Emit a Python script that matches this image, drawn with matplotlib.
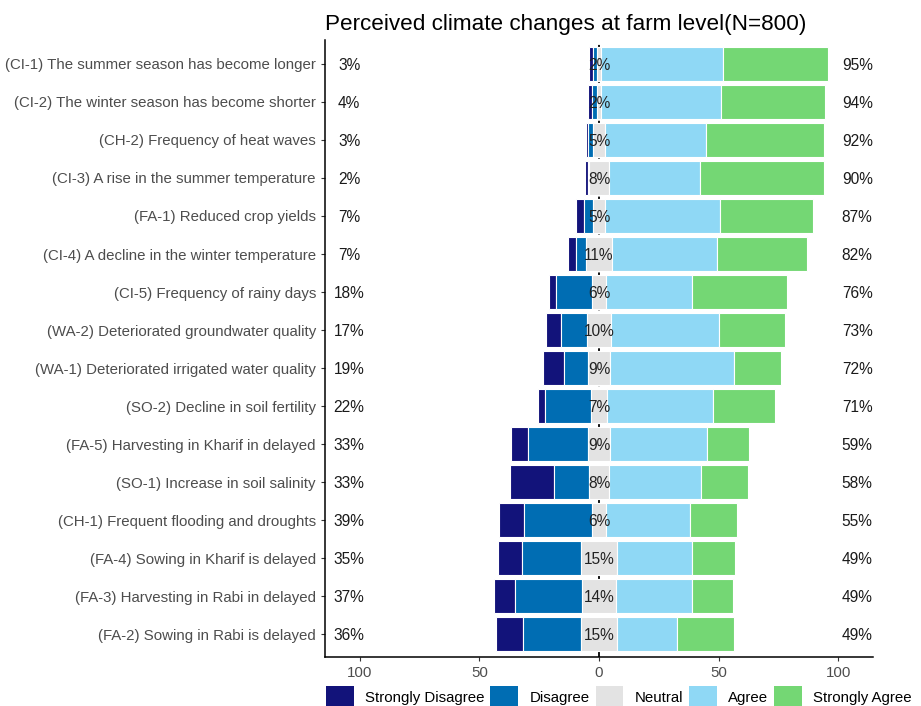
import matplotlib.pyplot as plt
from matplotlib.patches import Patch
import numpy as np

plt.rcParams['font.family'] = ['Liberation Sans', 'DejaVu Sans']

# Datos de ejemplo
items = [
    '(CI-1) The summer season has become longer',
    '(CI-2) The winter season has become shorter',
    '(CH-2) Frequency of heat waves',
    '(CI-3) A rise in the summer temperature',
    '(FA-1) Reduced crop yields',
    '(CI-4) A decline in the winter temperature',
    '(CI-5) Frequency of rainy days',
    '(WA-2) Deteriorated groundwater quality',
    '(WA-1) Deteriorated irrigated water quality',
    '(SO-2) Decline in soil fertility',
    '(FA-5) Harvesting in Kharif in delayed',
    '(SO-1) Increase in soil salinity',
    '(CH-1) Frequent flooding and droughts',
    '(FA-4) Sowing in Kharif is delayed',
    '(FA-3) Harvesting in Rabi in delayed',
    '(FA-2) Sowing in Rabi is delayed',
]
strongly_disagree = [1.6, 1.7, 1.0, 1.2, 3.5, 3.2, 2.8, 6.6, 9.0, 2.7, 7.3, 18.3, 10.3, 10.3, 8.8, 11.0]
disagree = [1.5, 2.1, 2.1, 0.5, 3.8, 4.2, 15.0, 10.7, 10.0, 19.3, 25.2, 14.8, 28.4, 24.6, 28.0, 24.5]
neutral = [2, 2, 5, 8, 5, 11, 6, 10, 9, 7, 9, 8, 6, 15, 14, 15]
agree = [50.8, 50.0, 42.2, 38.2, 48.0, 44.0, 36.0, 45.0, 52.0, 44.0, 40.5, 38.5, 35.0, 31.5, 32.0, 25.0]
strongly_agree = [43.8, 43.6, 49.5, 51.8, 39.0, 37.3, 39.7, 27.6, 19.8, 26.2, 17.8, 19.7, 19.7, 17.9, 16.9, 24.1]

# Etiquetas de porcentaje
left_pct = [3, 4, 3, 2, 7, 7, 18, 17, 19, 22, 33, 33, 39, 35, 37, 36]
neutral_pct = [2, 2, 5, 8, 5, 11, 6, 10, 9, 7, 9, 8, 6, 15, 14, 15]
right_pct = [95, 94, 92, 90, 87, 82, 76, 73, 72, 71, 59, 58, 55, 49, 49, 49]

niveles = ['Strongly Disagree', 'Disagree', 'Neutral', 'Agree', 'Strongly Agree']
colores = ['#12137a', '#006db3', '#e3e3e3', '#8fd8f5', '#74d774']

datos = np.array([strongly_disagree, disagree, neutral, agree, strongly_agree])
y = np.arange(len(items))

fig = plt.figure(figsize=(9.21, 7.06), dpi=100)
ax = fig.add_axes([0.3529, 0.0694, 0.595, 0.874])

# Línea punteada en cero (detrás de las barras)
ax.axvline(0, color='black', linestyle=(0, (3, 3)), linewidth=1.3, zorder=0)

# Barras divergentes apiladas
inicio = -(datos[0] + datos[1] + datos[2] / 2)
for i in range(5):
    ax.barh(y, datos[i], left=inicio, height=0.9, color=colores[i],
            edgecolor='white', linewidth=0.8, zorder=2)
    inicio = inicio + datos[i]

# Textos de porcentaje
for i in range(len(items)):
    ax.text(-104.5, y[i], f'{left_pct[i]}%', ha='center', va='center_baseline', fontsize=11.2, color='#1a1a1a', zorder=3)
    ax.text(0, y[i], f'{neutral_pct[i]}%', ha='center', va='center_baseline', fontsize=11.2, color='#222222', zorder=3)
    ax.text(108, y[i], f'{right_pct[i]}%', ha='center', va='center_baseline', fontsize=11.2, color='#1a1a1a', zorder=3)

ax.set_xlim(-114.6, 114.6)
ax.set_ylim(len(items) - 0.4, -0.63)
ax.set_yticks(y)
ax.set_yticklabels(items, fontsize=10.8, color='#4d4d4d')
ax.set_xticks([-100, -50, 0, 50, 100])
ax.set_xticklabels(['100', '50', '0', '50', '100'], fontsize=10.8, color='#4d4d4d')
ax.tick_params(axis='both', length=3, width=0.8, color='#333333')
ax.spines['top'].set_visible(False)
ax.spines['right'].set_visible(False)
ax.spines['left'].set_linewidth(1.1)
ax.spines['bottom'].set_linewidth(1.1)

ax.set_title('Perceived climate changes at farm level(N=800)', loc='left', fontsize=16.2, pad=7)

# Leyenda inferior
handles = [Patch(facecolor=c, edgecolor='none') for c in colores]
fig.legend(handles, niveles, loc='lower center', bbox_to_anchor=(0.672, -0.022), ncol=5,
           frameon=False, fontsize=10.8, handlelength=1.85, handleheight=1.9,
           handletextpad=0.75, columnspacing=0.4)

plt.savefig('out.png', dpi=100)
